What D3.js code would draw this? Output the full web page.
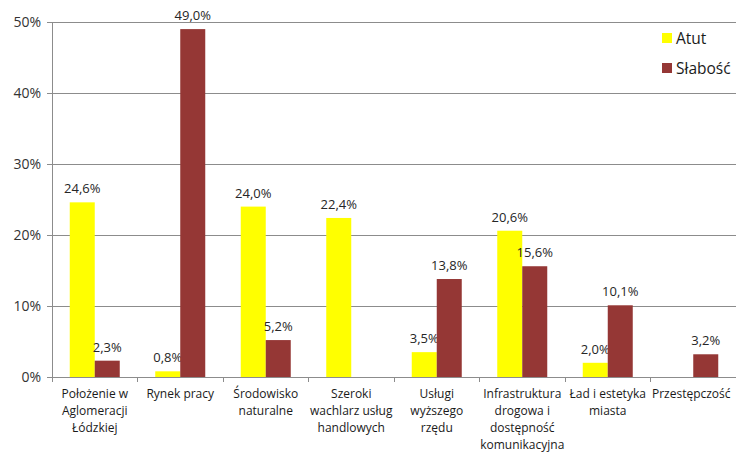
<!DOCTYPE html>
<html><head><meta charset="utf-8">
<script src="https://cdn.jsdelivr.net/npm/d3@7"></script>
<style>body{margin:0;background:#fff}svg{display:block}</style>
</head><body>
<svg id="c" width="736" height="455"></svg>
<script>
const categories = [
  ["Położenie w","Aglomeracji","Łódzkiej"],
  ["Rynek pracy"],
  ["Środowisko","naturalne"],
  ["Szeroki","wachlarz usług","handlowych"],
  ["Usługi","wyższego","rzędu"],
  ["Infrastruktura","drogowa i","dostępność","komunikacyjna"],
  ["Ład i estetyka","miasta"],
  ["Przestępczość"]
];
const seriesNames = ["Atut","Słabość"];
const atut    = [24.6, 0.8, 24.0, 22.4, 3.5, 20.6, 2.0, null];
const slabosc = [2.3, 49.0, 5.2, null, 13.8, 15.6, 10.1, 3.2];
const yTicks = [0,10,20,30,40,50];
const colors = ["#FFFF00","#953735"];

(function(){
const svg = d3.select("#c");
const font = "'Open Sans', 'DejaVu Sans', sans-serif";
const mL = 52, mR = 736, mT = 22, mB = 377;
const x = d3.scaleBand().domain(d3.range(categories.length)).range([mL, mR]);
const y = d3.scaleLinear().domain([0,50]).range([mB, mT]);
const sub = d3.scaleBand().domain([0,1]).range([0, 50]);

// gridlines
svg.append("g").selectAll("line").data(yTicks.filter(d=>d>0)).join("line")
  .attr("x1", mL).attr("x2", mR).attr("y1", d=>y(d)).attr("y2", d=>y(d))
  .attr("stroke", "#8c8c8c").attr("stroke-width", 1).attr("shape-rendering","crispEdges");

// y axis
const ya = svg.append("g").attr("transform", `translate(${mL},0)`)
  .call(d3.axisLeft(y).tickValues(yTicks).tickFormat(d=>d+"%").tickSize(5).tickPadding(6));
ya.select(".domain").attr("stroke","#8c8c8c");
ya.selectAll(".tick line").attr("stroke","#8c8c8c");
ya.selectAll("text").attr("font-family", font).attr("font-size", 14).attr("fill","#333");

// x axis
const xa = svg.append("g").attr("transform", `translate(0,${mB})`);
xa.append("line").attr("x1", mL).attr("x2", mR).attr("stroke","#8c8c8c").attr("shape-rendering","crispEdges");
xa.selectAll("line.t").data(d3.range(categories.length+1)).join("line").attr("class","t")
  .attr("x1", d=> d<categories.length ? x(d) : mR).attr("x2", d=> d<categories.length ? x(d) : mR)
  .attr("y1",0).attr("y2",5).attr("stroke","#8c8c8c").attr("shape-rendering","crispEdges");
categories.forEach((lines,i)=>{
  const t = xa.append("text").attr("text-anchor","middle").attr("font-family",font)
    .attr("font-size",12).attr("fill","#1a1a1a");
  lines.forEach((l,j)=> t.append("tspan").attr("x", x(i)+x.bandwidth()/2 + (i===7?-2:0)).attr("y", 21 + j*17).text(l));
});

// bars
const series = [atut, slabosc];
series.forEach((vals, s)=>{
  const g = svg.append("g");
  const data = vals.map((v,i)=>({v,i})).filter(d=>d.v!==null);
  g.selectAll("rect").data(data).join("rect")
    .attr("x", d=> x(d.i) + (x.bandwidth()-50)/2 + sub(s))
    .attr("width", sub.bandwidth())
    .attr("y", d=> y(d.v)).attr("height", d=> mB - y(d.v))
    .attr("fill", colors[s]);
  g.selectAll("text").data(data).join("text")
    .attr("x", d=> x(d.i) + (x.bandwidth()-50)/2 + sub(s) + sub.bandwidth()/2)
    .attr("y", d=> y(d.v) - 9)
    .attr("text-anchor","middle").attr("font-family",font).attr("font-size",13).attr("fill","#262626")
    .text(d=> d.v.toFixed(1).replace(".",",")+"%");
});

// legend
const lg = svg.append("g").attr("transform","translate(662,38)");
seriesNames.forEach((n,i)=>{
  lg.append("rect").attr("x",0).attr("y",i*30-5).attr("width",10).attr("height",10).attr("fill",colors[i]);
  lg.append("text").attr("x",14).attr("y",i*30+5.5).attr("font-family",font).attr("font-size",15.5).attr("fill","#1a1a1a").text(n);
});
})();
</script>
</body></html>
